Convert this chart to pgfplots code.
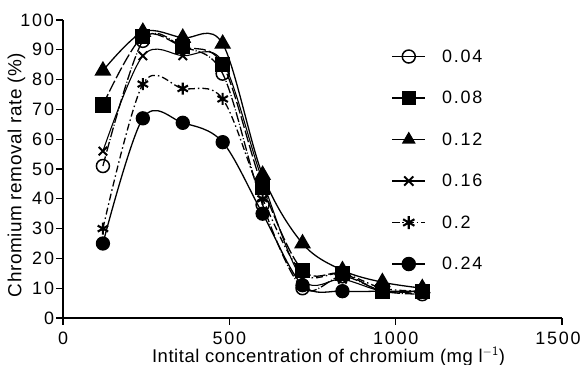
\documentclass[border=0pt]{standalone}
\usepackage{pgfplots}
\pgfplotsset{compat=1.18}
\usepackage{fontspec}
\setmainfont{Liberation Sans}
\newfontfamily\widefont[LetterSpace=10]{Liberation Sans}
\newfontfamily\labelfont[LetterSpace=3]{Liberation Sans}
\begin{document}
\begin{tikzpicture}
\begin{axis}[
  scale only axis,
  width=499bp, height=298bp,
  xmin=0, xmax=1500, ymin=0, ymax=100,
  axis lines=left,
  axis line style={line width=1.3pt,-},
  xtick={0,500,1000,1500}, ytick={0,10,...,100},
  xticklabels={0,500,1000,{\hspace*{-8bp}1500}},
  tick align=outside, major tick length=6.5bp,
  tick style={line width=1.3pt, black},
  ticklabel style={font=\widefont\fontsize{18}{20}\selectfont},
  xticklabel style={yshift=-4bp},
  yticklabel style={xshift=1bp},
  /pgf/number format/assume math mode=true,
  /pgf/number format/1000 sep={},
  xlabel={Intital concentration of chromium (mg l$^{\mathsf{-1}}$)},
  ylabel={Chromium removal rate (\%)},
  xlabel style={font=\labelfont\fontsize{18.5}{20}\selectfont, at={(axis description cs:0.5,0)}, anchor=base, yshift=-44bp, xshift=16bp},
  ylabel style={font=\labelfont\fontsize{19}{20}\selectfont, at={(axis description cs:-0.093,0.48)}, anchor=center},
  legend style={at={(0.652,0.915)}, anchor=north west, draw=none, fill=none,
    font=\widefont\fontsize{18}{20}\selectfont, row sep=23.5bp, column sep=14bp},
  legend cell align=left,
  legend image code/.code={\draw[mark repeat=2,mark phase=2,#1,line width=1.5pt,mark size=6.5bp] plot coordinates {(0bp,0bp)(16.5bp,0bp)(33bp,0bp)};},
  every axis plot/.append style={black, line width=1.3pt, smooth, tension=0.55},
]
\addplot[mark=o, mark size=6.5bp, mark options={solid, line width=1.5pt}, dash pattern={on 10pt off 2pt on 1pt off 2pt}, legend image post style={solid}] coordinates {
(120,51) (240,93) (360,91) (480,82) (600,38) (720,10) (840,14) (960,9) (1080,8)};
\addlegendentry{0.04}
\addplot[mark=square*, mark size=7bp, mark options={solid}, dash pattern={on 12pt off 3pt}, legend image post style={solid}] coordinates {
(120,71.5) (240,94.5) (360,91) (480,85) (600,44) (720,16) (840,15) (960,9) (1080,9)};
\addlegendentry{0.08}
\addplot[mark=triangle*, mark size=8.5bp, mark options={solid}, legend image post style={mark size=8bp}] coordinates {
(120,83) (240,96) (360,94) (480,92) (600,48) (720,25) (840,16) (960,12) (1080,10)};
\addlegendentry{0.12}
\addplot[mark=x, mark size=6bp, mark options={solid, line width=1.9pt}, line width=1.1pt] coordinates {
(120,56) (240,88) (360,88) (480,86) (600,46) (720,13) (840,13) (960,9) (1080,9)};
\addlegendentry{0.16}
\addplot[mark=asterisk, mark size=6bp, mark options={solid, line width=2.1pt}, dash pattern={on 7pt off 3pt on 1.5pt off 3pt}] coordinates {
(120,30) (240,78.5) (360,77) (480,73.5) (600,40) (720,15) (840,15) (960,10) (1080,9)};
\addlegendentry{0.2}
\addplot[mark=*, mark size=6.5bp, mark options={solid}] coordinates {
(120,25) (240,67) (360,65.5) (480,59) (600,35) (720,11) (840,9) (960,9) (1080,9)};
\addlegendentry{0.24}
\end{axis}
\pgfresetboundingbox
\useasboundingbox ([shift={(-63bp,-47bp)}]current axis.south west) rectangle ([shift={(19bp,20bp)}]current axis.north east);
\end{tikzpicture}
\end{document}
